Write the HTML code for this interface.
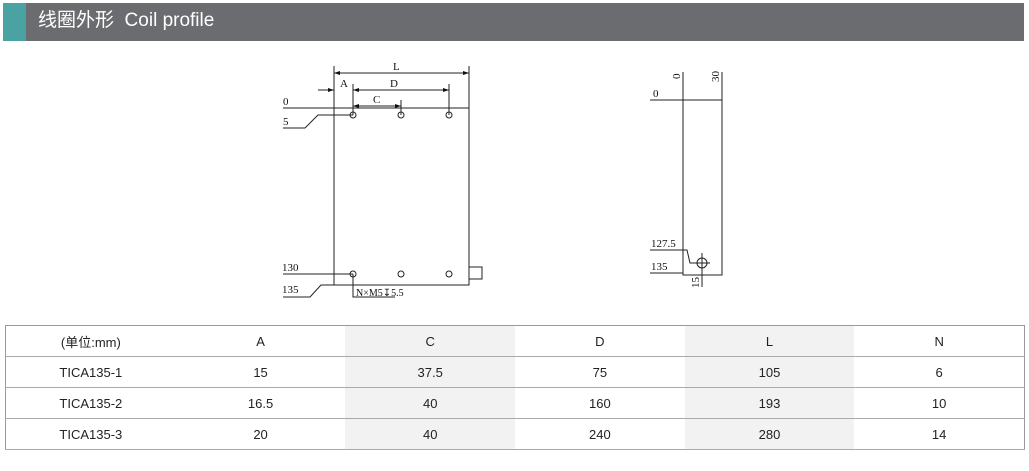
<!DOCTYPE html>
<html><head><meta charset="utf-8"><style>
body{margin:0;width:1029px;height:471px;background:#fff;position:relative;overflow:hidden;font-family:"Liberation Sans","Noto Sans CJK SC",sans-serif}
.hdr{position:absolute;left:3px;top:3px;width:1021px;height:38px;background:#6b6c70}
.teal{position:absolute;left:3px;top:3px;width:23px;height:38px;background:#4aa3a2}
.ht{position:absolute;left:38px;top:10px;color:#fff;font-size:19px;line-height:22px}
table{position:absolute;left:5px;top:325px;width:1020px;border-collapse:collapse;border:1.5px solid #999}
td{height:30px;border-bottom:1px solid #aaa;text-align:center;font-size:13px;color:#222;padding:0;width:170px}
td.g{background:#f2f2f2}
</style></head><body>
<div class="hdr"></div><div class="teal"></div>
<div class="ht">线圈外形&nbsp;&nbsp;Coil profile</div>
<svg width="1029" height="320" style="position:absolute;left:0;top:0" font-family="Liberation Serif,serif" font-size="11" fill="#111">
<g stroke="#222" stroke-width="1" fill="none">
<rect x="334" y="108" width="135" height="177"/>
<rect x="469" y="267" width="13" height="12"/>
<line x1="334" y1="66" x2="334" y2="108"/><line x1="469" y1="66" x2="469" y2="108"/>
<line x1="334" y1="73" x2="469" y2="73"/>
<line x1="318" y1="90" x2="334" y2="90"/><line x1="353" y1="90" x2="449" y2="90"/>
<line x1="353" y1="84" x2="353" y2="115"/><line x1="449" y1="84" x2="449" y2="115"/>
<line x1="401" y1="100" x2="401" y2="115"/>
<line x1="353" y1="106" x2="401" y2="106"/>
<line x1="283" y1="108" x2="334" y2="108"/>
<polyline points="353,115 318,115 305,128 283,128"/>
<line x1="283" y1="274" x2="353" y2="274"/>
<polyline points="334,285 321,285 310,297 283,297"/>
<polyline points="353,274 353,297 395,297"/>
<circle cx="353" cy="115" r="3"/><circle cx="401" cy="115" r="3"/><circle cx="449" cy="115" r="3"/>
<circle cx="353" cy="274" r="3"/><circle cx="401" cy="274" r="3"/><circle cx="449" cy="274" r="3"/>
<rect x="683" y="100" width="39" height="175"/>
<line x1="683" y1="72" x2="683" y2="100"/><line x1="722" y1="72" x2="722" y2="100"/>
<line x1="650" y1="100" x2="683" y2="100"/>
<polyline points="650,250 687,250 690,263 710,263"/>
<line x1="650" y1="273" x2="683" y2="273"/>
<line x1="702" y1="253" x2="702" y2="287"/>
<circle cx="702" cy="263" r="5"/>
</g>
<g fill="#111">
<polygon points="334,73 340,71 340,75"/><polygon points="469,73 463,71 463,75"/>
<polygon points="334,90 328,88 328,92"/><polygon points="353,90 359,88 359,92"/><polygon points="449,90 443,88 443,92"/>
<polygon points="353,106 359,104 359,108"/><polygon points="401,106 395,104 395,108"/>
</g>
<text x="393" y="70">L</text><text x="340" y="87">A</text><text x="390" y="87">D</text><text x="373" y="103">C</text>
<text x="283" y="105">0</text><text x="283" y="125">5</text><text x="282" y="271">130</text><text x="282" y="293">135</text>
<text x="356" y="296" font-size="10">N×M5↧5.5</text>
<text x="653" y="97">0</text><text x="651" y="247">127.5</text><text x="651" y="270">135</text>
<text transform="translate(680,79) rotate(-90)">0</text>
<text transform="translate(719,82) rotate(-90)">30</text>
<text transform="translate(699,288) rotate(-90)">15</text>
</svg>
<table>
<tr><td>(单位:mm)</td><td>A</td><td class="g">C</td><td>D</td><td class="g">L</td><td>N</td></tr>
<tr><td>TICA135-1</td><td>15</td><td class="g">37.5</td><td>75</td><td class="g">105</td><td>6</td></tr>
<tr><td>TICA135-2</td><td>16.5</td><td class="g">40</td><td>160</td><td class="g">193</td><td>10</td></tr>
<tr><td>TICA135-3</td><td>20</td><td class="g">40</td><td>240</td><td class="g">280</td><td>14</td></tr>
</table>
</body></html>
